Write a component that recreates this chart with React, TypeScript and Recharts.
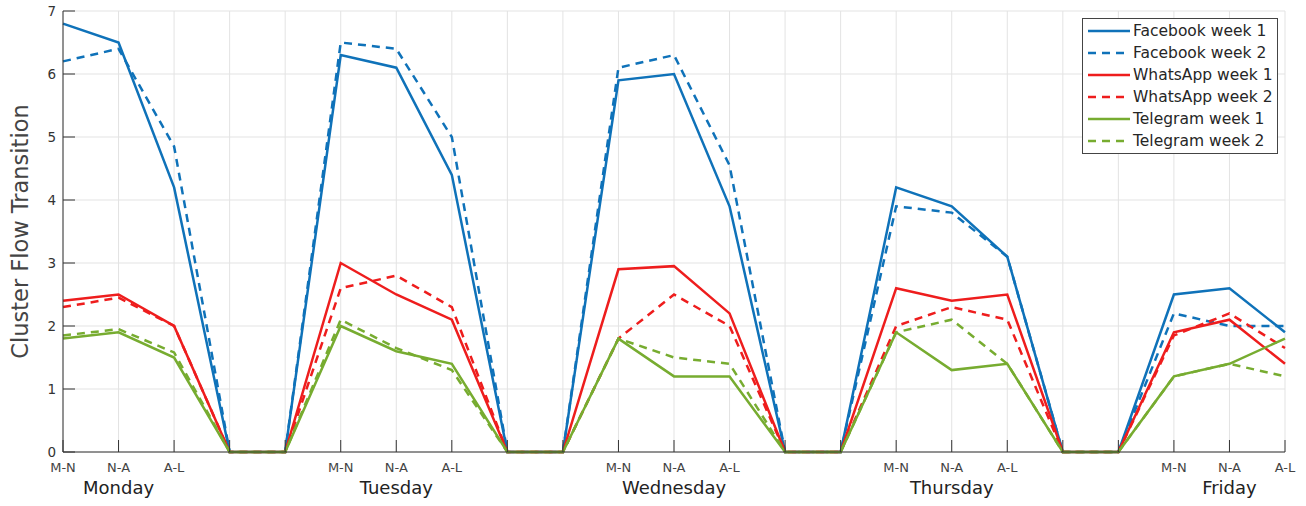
import { LineChart, Line, XAxis, YAxis, CartesianGrid, Legend } from 'recharts';

// x positions: three periods per day, then two empty slots between days
const slotLabels = [
    'M-N', 'N-A', 'A-L', '', '',
    'M-N', 'N-A', 'A-L', '', '',
    'M-N', 'N-A', 'A-L', '', '',
    'M-N', 'N-A', 'A-L', '', '',
    'M-N', 'N-A', 'A-L'
];
const dayLabels = [
    '', 'Monday', '', '', '',
    '', 'Tuesday', '', '', '',
    '', 'Wednesday', '', '', '',
    '', 'Thursday', '', '', '',
    '', 'Friday', ''
];

const fbWeek1 = [6.8, 6.5, 4.2, 0, 0, 6.3, 6.1, 4.4, 0, 0, 5.9, 6.0, 3.9, 0, 0, 4.2, 3.9, 3.1, 0, 0, 2.5, 2.6, 1.9];
const fbWeek2 = [6.2, 6.4, 4.85, 0, 0, 6.5, 6.4, 5.0, 0, 0, 6.1, 6.3, 4.55, 0, 0, 3.9, 3.8, 3.1, 0, 0, 2.2, 2.0, 2.0];
const waWeek1 = [2.4, 2.5, 2.0, 0, 0, 3.0, 2.5, 2.1, 0, 0, 2.9, 2.95, 2.2, 0, 0, 2.6, 2.4, 2.5, 0, 0, 1.9, 2.1, 1.4];
const waWeek2 = [2.3, 2.45, 2.0, 0, 0, 2.6, 2.8, 2.3, 0, 0, 1.8, 2.5, 2.0, 0, 0, 2.0, 2.3, 2.1, 0, 0, 1.85, 2.2, 1.65];
const tgWeek1 = [1.8, 1.9, 1.5, 0, 0, 2.0, 1.6, 1.4, 0, 0, 1.8, 1.2, 1.2, 0, 0, 1.9, 1.3, 1.4, 0, 0, 1.2, 1.4, 1.8];
const tgWeek2 = [1.85, 1.95, 1.58, 0, 0, 2.1, 1.65, 1.3, 0, 0, 1.8, 1.5, 1.4, 0, 0, 1.9, 2.1, 1.4, 0, 0, 1.2, 1.4, 1.2];

const yTicks = [0, 1, 2, 3, 4, 5, 6, 7];

const BLUE = '#0f72b9';
const RED = '#ee1d1d';
const GREEN = '#77ac30';
const AXIS = '#333333';
const FONT = '"DejaVu Sans", Verdana, sans-serif';

const series = [
    { key: 'fbW1', name: 'Facebook week 1', color: BLUE, dashed: false },
    { key: 'fbW2', name: 'Facebook week 2', color: BLUE, dashed: true },
    { key: 'waW1', name: 'WhatsApp week 1', color: RED, dashed: false },
    { key: 'waW2', name: 'WhatsApp week 2', color: RED, dashed: true },
    { key: 'tgW1', name: 'Telegram week 1', color: GREEN, dashed: false },
    { key: 'tgW2', name: 'Telegram week 2', color: GREEN, dashed: true },
];

const data = slotLabels.map((_, i) => ({
    slot: String(i),
    fbW1: fbWeek1[i],
    fbW2: fbWeek2[i],
    waW1: waWeek1[i],
    waW2: waWeek2[i],
    tgW1: tgWeek1[i],
    tgW2: tgWeek2[i],
}));

const BottomTick = ({ x, y, payload }: any) => {
    const i = payload.index;
    return (
        <g>
            <line x1={x} y1={y} x2={x} y2={y - 12} stroke={AXIS} strokeWidth={1} />
            <text x={x} y={y + 20} textAnchor="middle" fontSize={13} fill="#444" fontFamily={FONT}>
                {slotLabels[i]}
            </text>
            {dayLabels[i] && (
                <text x={x} y={y + 42} textAnchor="middle" fontSize={18} fill="#222" fontFamily={FONT}>
                    {dayLabels[i]}
                </text>
            )}
        </g>
    );
};

const TopTick = ({ x, y }: any) => (
    <line x1={x} y1={y} x2={x} y2={y + 12} stroke={AXIS} strokeWidth={1} />
);

const LeftTick = ({ x, y, payload }: any) => (
    <g>
        <line x1={x} y1={y} x2={x + 12} y2={y} stroke={AXIS} strokeWidth={1} />
        <text x={x - 7} y={y + 5} textAnchor="end" fontSize={13.5} fill="#333" fontFamily={FONT}>
            {payload.value}
        </text>
    </g>
);

const RightTick = ({ x, y }: any) => (
    <line x1={x} y1={y} x2={x - 12} y2={y} stroke={AXIS} strokeWidth={1} />
);

const LegendBox = () => (
    <div
        style={{
            width: 194,
            border: '1px solid #444',
            background: '#fff',
            padding: '1px 0',
            fontFamily: FONT,
            fontSize: 15.5,
            color: '#262626',
        }}
    >
        {series.map((s) => (
            <div key={s.key} style={{ display: 'flex', alignItems: 'center', height: 22 }}>
                <svg width={50} height={22} style={{ flex: 'none' }}>
                    <line
                        x1={5}
                        y1={11}
                        x2={47}
                        y2={11}
                        stroke={s.color}
                        strokeWidth={2.5}
                        strokeDasharray={s.dashed ? '8 6' : undefined}
                    />
                </svg>
                <span style={{ whiteSpace: 'nowrap' }}>{s.name}</span>
            </div>
        ))}
    </div>
);

export default function App() {
    return (
        <div style={{ position: 'absolute', left: 0, top: 0, background: '#fff' }}>
            <LineChart width={1306} height={506} data={data} margin={{ top: 11, right: 21, bottom: 4, left: 13 }}>
                <CartesianGrid stroke="#e3e3e3" strokeWidth={1} />
                <XAxis
                    dataKey="slot"
                    interval={0}
                    height={50}
                    tickSize={0}
                    tickMargin={0}
                    tickLine={false}
                    axisLine={{ stroke: AXIS, strokeWidth: 1 }}
                    tick={<BottomTick />}
                />
                <XAxis
                    xAxisId="top"
                    dataKey="slot"
                    orientation="top"
                    interval={0}
                    height={0}
                    tickSize={0}
                    tickMargin={0}
                    tickLine={false}
                    axisLine={{ stroke: AXIS, strokeWidth: 1 }}
                    tick={<TopTick />}
                />
                <YAxis
                    type="number"
                    domain={[0, 7]}
                    ticks={yTicks}
                    interval={0}
                    width={50}
                    tickSize={0}
                    tickMargin={0}
                    tickLine={false}
                    axisLine={{ stroke: AXIS, strokeWidth: 1 }}
                    tick={<LeftTick />}
                    label={{
                        value: 'Cluster Flow Transition',
                        angle: -90,
                        position: 'center',
                        dx: -18,
                        style: { fontSize: 22.5, fill: '#444', fontFamily: FONT },
                    }}
                />
                <YAxis
                    yAxisId="r"
                    orientation="right"
                    type="number"
                    domain={[0, 7]}
                    ticks={yTicks}
                    interval={0}
                    width={0}
                    tickSize={0}
                    tickMargin={0}
                    tickLine={false}
                    axisLine={{ stroke: AXIS, strokeWidth: 1 }}
                    tick={<RightTick />}
                />
                {series.map((s) => (
                    <Line
                        key={s.key}
                        type="linear"
                        dataKey={s.key}
                        name={s.name}
                        stroke={s.color}
                        strokeWidth={2.5}
                        strokeDasharray={s.dashed ? '8 6' : undefined}
                        dot={false}
                        activeDot={false}
                        isAnimationActive={false}
                    />
                ))}
                <Legend
                    layout="vertical"
                    align="center"
                    verticalAlign="middle"
                    wrapperStyle={{ top: 18, left: 1082, width: 196 }}
                    content={() => <LegendBox />}
                />
            </LineChart>
        </div>
    );
}
